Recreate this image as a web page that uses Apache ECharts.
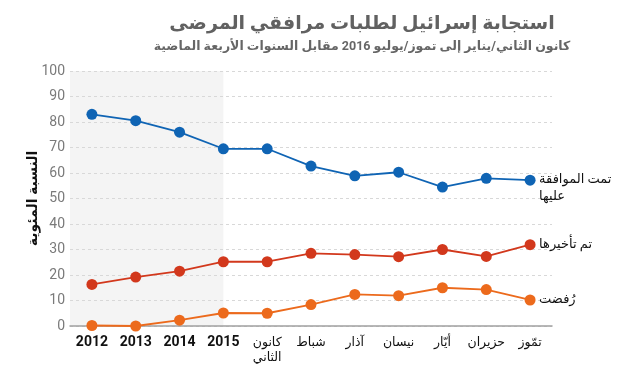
<!DOCTYPE html>
<html><head><meta charset="utf-8">
<script src="https://cdn.jsdelivr.net/npm/echarts@6/dist/echarts.min.js"></script>
<style>html,body{margin:0;padding:0;background:#fff}#c{width:628px;height:380px}</style>
</head><body><div id="c"></div>
<script>
var categories = ['2012','2013','2014','2015','كانون\nالثاني','شباط','آذار','نيسان','أيّار','حزيران','تمّوز'];
var approved = [83, 80.5, 76, 69.5, 69.5, 62.7, 58.9, 60.3, 54.5, 57.9, 57.2];
var delayed  = [16.3, 19.2, 21.5, 25.2, 25.2, 28.5, 28.0, 27.2, 30.0, 27.3, 31.9];
var rejected = [0.2, 0, 2.3, 5.1, 5.0, 8.4, 12.4, 11.9, 15.0, 14.3, 10.2];
var seriesNames = ['تمت الموافقة\nعليها', 'تم تأخيرها', 'رُفضت'];
var colors = ['#0f64b4', '#d2381c', '#ec6a1c'];
var yTicks = [0,10,20,30,40,50,60,70,80,90,100];
var bandRange = [-0.5, 3];

var font = "Roboto, 'DejaVu Sans', sans-serif";
var chart = echarts.init(document.getElementById('c'), null, {renderer:'canvas'});
function lineSeries(i, data){
  return {
    type:'line', name: seriesNames[i], data: data, z: 3,
    symbol:'circle', symbolSize: 11, showAllSymbol: true,
    itemStyle:{color: colors[i]},
    lineStyle:{color: colors[i], width: 1.8},
    endLabel:{show:true, formatter: seriesNames[i], color:'#111', fontSize:13,
      fontFamily: font, distance: 9, lineHeight: 17, align:'left',
      offset: i===0 ? [0, 8] : [0, 0]},
    animation:false
  };
}
chart.setOption({
  animation:false,
  title:{
    text:'استجابة إسرائيل لطلبات مرافقي المرضى',
    subtext:'كانون الثاني/يناير إلى تموز/يوليو 2016 مقابل السنوات الأربعة الماضية',
    left: 357, top: 10, textAlign:'center', itemGap: 6,
    textStyle:{fontSize:19, fontWeight:'bold', color:'#616161', fontFamily: font},
    subtextStyle:{fontSize:12.5, fontWeight:'bold', color:'#666', fontFamily: font}
  },
  grid:{left:70, right:76, top:71, bottom:54, containLabel:false},
  xAxis:[{
    type:'category', data: categories, boundaryGap:true,
    axisLine:{lineStyle:{color:'#a0a0a0', width:1.5}},
    axisTick:{show:false},
    axisLabel:{interval:0, margin:9,
      formatter:function(v){ return /^\d+$/.test(v) ? '{y|'+v+'}' : v.split('\n').map(function(s){return '{m|'+s+'}';}).join('\n'); },
      rich:{
        y:{color:'#111', fontSize:14, fontFamily: font, fontWeight:'bold', lineHeight:15},
        m:{color:'#111', fontSize:12.5, fontFamily: font, lineHeight:15}
      }}
  },{
    type:'value', min:-0.5, max:10.5, show:false
  }],
  yAxis:{
    type:'value', min:0, max:100, interval:10,
    name:'النسبة المئوية', nameLocation:'middle', nameGap:30, nameRotate:90,
    nameMoveOverlap:false,
    nameTextStyle:{color:'#111', fontSize:14, fontWeight:'bold', fontFamily: font},
    axisLine:{show:false}, axisTick:{show:false},
    axisLabel:{color:'#7a7a7a', fontSize:14, fontFamily: font, margin:5,
      formatter:function(v){return yTicks.indexOf(v)>=0 ? String(v) : '';}},
    splitLine:{lineStyle:{color:'#d8d8d8', type:[3,3], width:1}}
  },
  series:[
    {type:'line', xAxisIndex:1, data:[[0,null]], z:-1, silent:true, symbol:'none',
     markArea:{silent:true, z:-1, itemStyle:{color:'#f4f4f4'},
       data:[[{xAxis: bandRange[0]},{xAxis: bandRange[1]}]]}},
    lineSeries(0, approved),
    lineSeries(1, delayed),
    lineSeries(2, rejected)
  ]
});
</script></body></html>
